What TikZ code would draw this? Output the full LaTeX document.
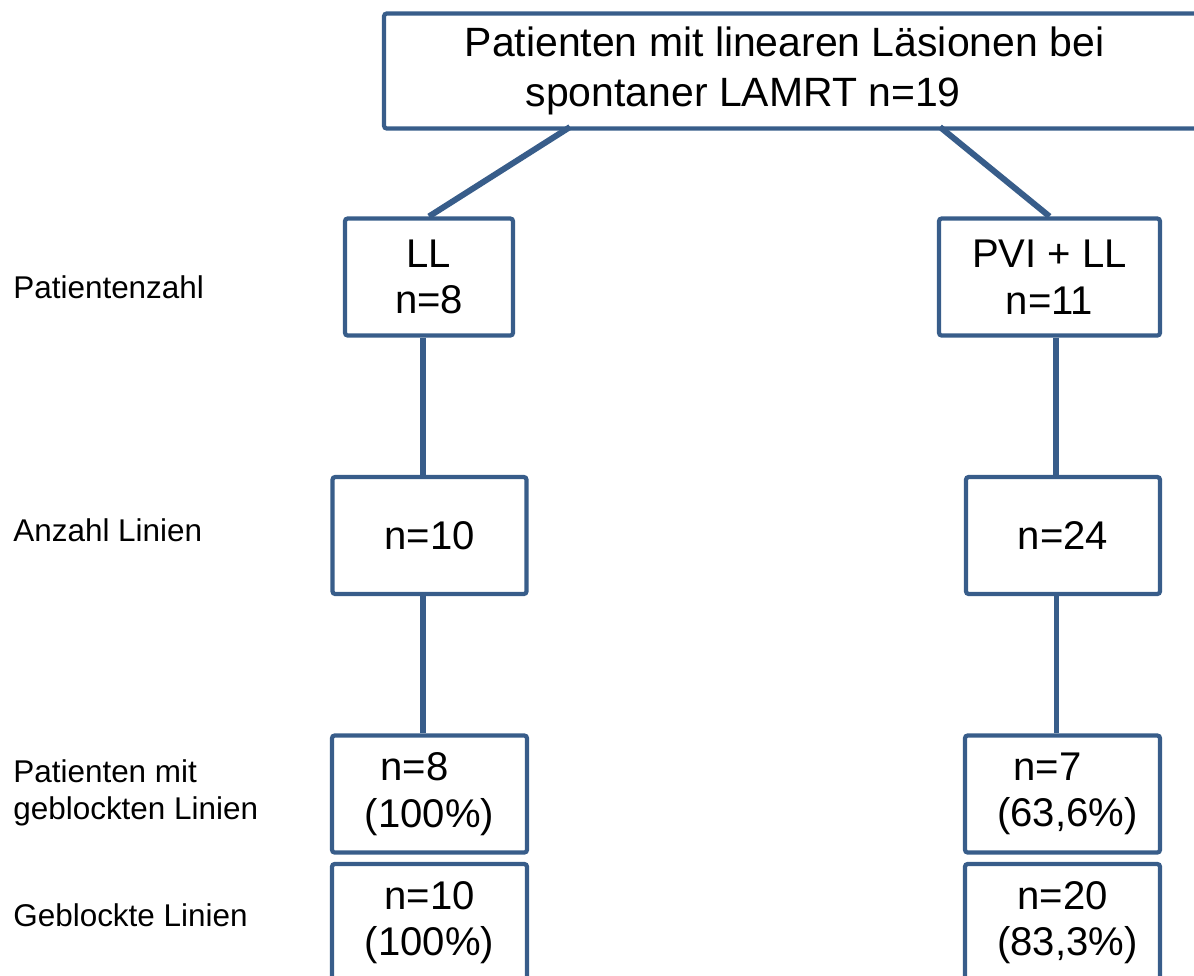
\documentclass[tikz,border=0pt]{standalone}
\usepackage{fontspec}
\setmainfont{Liberation Sans}
\definecolor{lineblue}{HTML}{385D8A}

\begin{document}
\begin{tikzpicture}[x=0.02cm, y=-0.02cm,
      box/.style={draw=lineblue, line width=2.4pt, rounded corners=1.5pt, inner sep=0pt, minimum height=2.34cm, align=center, font=\fontsize{22.8}{26.5}\selectfont},
      rowlabel/.style={anchor=west, inner sep=0pt, align=left, font=\fontsize{17.9}{21}\selectfont},
      link/.style={draw=lineblue, line width=3.4pt}
    ]
      \useasboundingbox (0,0) rectangle (1194,975);

      \node[box, minimum width=16.32cm, minimum height=2.3cm, align=left, font=\fontsize{23.3}{28.5}\selectfont] (top) at (792,71) {Patienten mit linearen Läsionen bei\hspace*{0.3cm}\\\hspace*{1.22cm}spontaner LAMRT n=19};

      \node[box, minimum width=3.36cm] (ll)   at (429,277)    {LL\\n=8};
      \node[box, minimum width=4.42cm] (pvi)  at (1049.5,277) {PVI + LL\\n=11};
      \node[box, minimum width=3.88cm] (lines ll)  at (429.5,535.5) {n=10};
      \node[box, minimum width=3.88cm] (lines pvi) at (1063,535.5)  {n=24};
      \node[box, minimum width=3.9cm]  (pat ll)    at (429.5,794)   {n=8\hspace*{0.6cm}\\(100\%)};
      \node[box, minimum width=3.9cm]  (pat pvi)   at (1062.5,794)  {n=7\hspace*{0.6cm}\\\hspace*{0.2cm}(63,6\%)};
      \node[box, minimum width=3.9cm]  (blk ll)    at (429.5,922.5) {n=10\\(100\%)};
      \node[box, minimum width=3.9cm]  (blk pvi)   at (1062.5,922.5) {n=20\\\hspace*{0.2cm}(83,3\%)};

      \node[rowlabel] (lab count)   at (13,287) {Patientenzahl};
      \node[rowlabel] (lab lines)   at (13,530) {Anzahl Linien};
      \node[rowlabel] (lab patblk)  at (13,793) {Patienten mit\\geblockten Linien};
      \node[rowlabel] (lab blk)     at (13,915) {Geblockte Linien};

      \coordinate (top left)  at (570,127);
      \coordinate (top right) at (940,127);

      \draw[link] (top left) -- (ll.north);
      \draw[link] (top right) -- (pvi.north);
      \draw[link] ([xshift=-0.12cm]ll.south) -- ([xshift=-0.12cm]ll.south |- lines ll.north);
      \draw[link] ([xshift=-0.13cm]lines ll.south) -- ([xshift=-0.13cm]lines ll.south |- pat ll.north);
      \draw[link] ([xshift=0.13cm]pvi.south) -- ([xshift=0.13cm]pvi.south |- lines pvi.north);
      \draw[link] ([xshift=-0.13cm]lines pvi.south) -- ([xshift=-0.13cm]lines pvi.south |- pat pvi.north);
    \end{tikzpicture}
\end{document}
